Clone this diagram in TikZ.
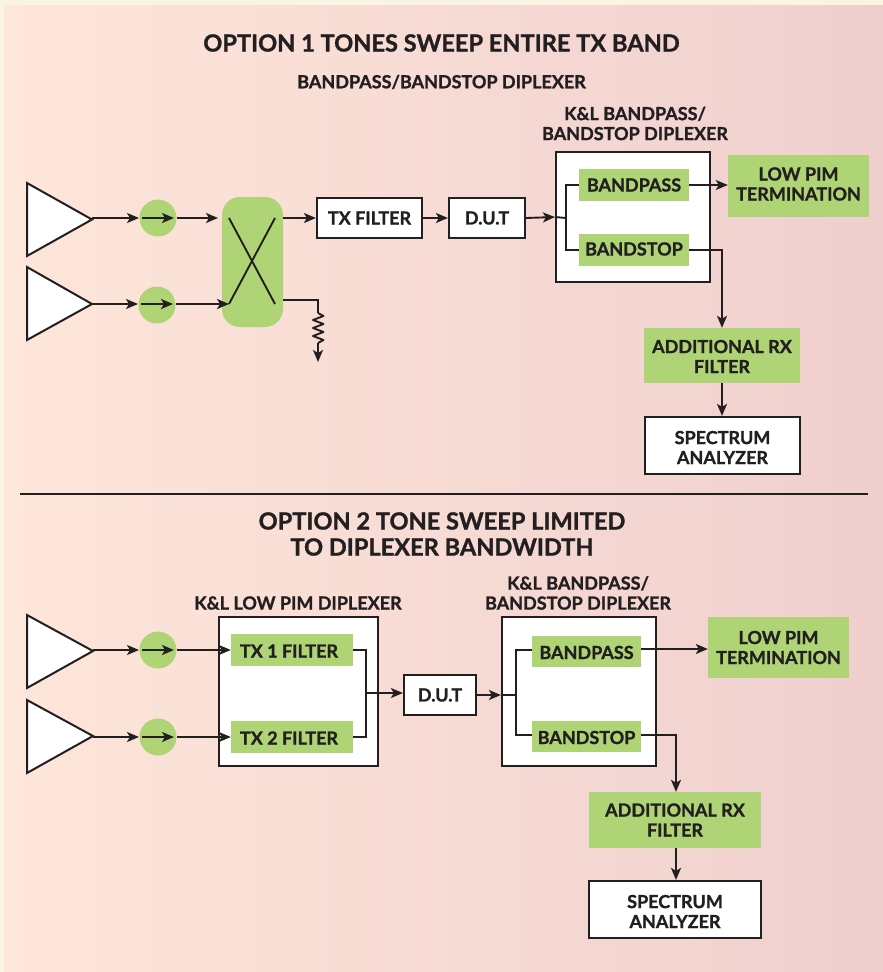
\documentclass[tikz,border=0pt]{standalone}
\usepackage{fontspec}
\setmainfont{Lato}[BoldFeatures={FakeBold=1.2}]
\usetikzlibrary{arrows.meta,decorations.pathmorphing,shapes.geometric}
\definecolor{gr}{HTML}{AED475}
\definecolor{ink}{HTML}{231F20}
\definecolor{creamc}{HTML}{FAF5E3}
\definecolor{bgl}{HTML}{FEE6DA}
\definecolor{bgr}{HTML}{EFCFCE}
\tikzset{
 x=1pt,y=-1pt,
 conn/.style={draw=ink,line width=1.9pt},
 arr/.style={conn,-{Stealth[length=12pt,width=10pt,inset=3pt]}},
 lab/.style={font=\bfseries\fontsize{18}{20}\selectfont,text=ink,align=center,inner sep=0pt},
 wbox/.style={draw=ink,line width=2.2pt,fill=white,inner sep=0pt},
 gbox/.style={fill=gr,inner sep=0pt},
 title/.style={font=\bfseries\fontsize{23.6}{26}\selectfont,text=ink,align=center,inner sep=0pt},
 amp/.style={draw=ink,line width=2pt,fill=white},
 iso/.style={circle,fill=gr,minimum size=37pt,inner sep=0pt},
}
\newcommand{\bx}[6]{\node[#1,minimum width=#4-#3,minimum height=#6-#5] (#2) at ({(#3+#4)/2},{(#5+#6)/2}) {};}
\begin{document}
\begin{tikzpicture}
\useasboundingbox (0,0) rectangle (883,972);
\fill[creamc] (0,0) rectangle (883,972);
\shade[left color=bgl,right color=bgr] (4,5) rectangle (883,972);

% titles
\node[title] (t1) at (441.5,43) {OPTION 1 TONES SWEEP ENTIRE TX BAND};
\node[lab] (t1b) at (441.5,82) {BANDPASS/BANDSTOP DIPLEXER};
\node[lab] (t1c) at (635,123.5) {K\&L BANDPASS/\\BANDSTOP DIPLEXER};
\node[title] (t2) at (442,534) {OPTION 2 TONE SWEEP LIMITED\\TO DIPLEXER BANDWIDTH};
\node[lab] (t2b) at (298,603) {K\&L LOW PIM DIPLEXER};
\node[lab] (t2c) at (578,593) {K\&L BANDPASS/\\BANDSTOP DIPLEXER};
\coordinate (ruleL) at (20,493.5);
\coordinate (ruleR) at (868,493.5);
\draw[ink,line width=2pt] (ruleL) -- (ruleR);

%%% Option 1
\draw[amp] (27,183) -- (27,256) -- (92,219.5) -- cycle;
\draw[amp] (27,267) -- (27,340) -- (92,304) -- cycle;
\coordinate (a1) at (92,218);
\coordinate (a2) at (92,304);
\node[iso] (c1) at (158,218) {};
\node[iso] (c2) at (157,305) {};
\node[fill=gr,rounded corners=18pt,minimum width=61pt,minimum height=130pt,inner sep=0pt] (cp) at (252.5,262) {};
\coordinate (x1) at (229,218); \coordinate (x2) at (275,218);
\coordinate (x3) at (229,304); \coordinate (x4) at (275,304);
\draw[conn] (x1) -- (x4);
\draw[conn] (x2) -- (x3);
\draw[arr] (a1) -- (139,218);
\draw[arr] (142,218) -- (174,218);
\draw[arr] (177,218) -- (218,218);
\draw[arr] (a2) -- (138,304);
\draw[arr] (141,304) -- (173,304);
\draw[arr] (176,304) -- (x3);
\bx{wbox}{txf}{317}{422}{198}{238}
\node[lab] at (txf) {TX FILTER};
\bx{wbox}{dut}{449}{525}{198}{238}
\node[lab] at (dut) {D.U.T};
\bx{wbox}{dip}{556}{710}{152}{282}
\bx{gbox}{bp}{579}{689}{169}{201}
\node[lab] at (bp) {BANDPASS};
\bx{gbox}{bs}{579}{689}{234}{266}
\node[lab,yshift=1pt] at (bs) {BANDSTOP};
\bx{gbox}{low}{728}{869}{155}{217}
\node[lab,yshift=2pt] at (low) {LOW PIM\\TERMINATION};
\bx{gbox}{rx}{644}{800}{328}{383}
\node[lab,yshift=-1pt] at (rx) {ADDITIONAL RX\\FILTER};
\bx{wbox}{sa}{645}{800}{417}{474}
\node[lab,yshift=-2pt] at (sa) {SPECTRUM\\ANALYZER};
\draw[arr] (283,218) -- (txf.west);
\draw[arr] (txf.east) -- (dut.west);
\draw[arr] (dut.east) -- (dip.west);
\coordinate (j1) at (566,218);
\draw[conn] (dip.west) -- (j1);
\draw[conn] (bp.west) -| (j1);
\draw[conn] (bs.west) -| (j1);
\draw[arr] (bp.east) -- (bp.east -| low.west);
\coordinate (c1a) at (722,250);
\draw[arr] (bs.east) -- (c1a) -- (c1a |- rx.north);
\draw[arr] (rx.south -| c1a) -- (sa.north -| c1a);
% resistor
\coordinate (r0) at (283,300);
\coordinate (r1) at (318,300);
\coordinate (r2) at (318,313);
\coordinate (r3) at (318,343);
\coordinate (r4) at (318,362);
\draw[conn] (r0) -- (r1) -- (r2);
\draw[conn,line join=round] (r2) -- (323.5,316) -- (313,320) -- (323.5,324) -- (313,328) -- (323.5,332) -- (313,336) -- (323.5,340) -- (r3);
\draw[arr] (r3) -- (r4);

%%% Option 2
\draw[amp] (27,615) -- (27,688) -- (93,651) -- cycle;
\draw[amp] (27,700) -- (27,773) -- (93,736) -- cycle;
\coordinate (b1) at (93,650);
\coordinate (b2) at (93,737);
\node[iso] (d1) at (158,650) {};
\node[iso] (d2) at (158,737) {};
\bx{wbox}{dip1}{219}{378}{617}{766}
\bx{gbox}{tx1}{231}{353}{634}{666}
\node[lab,xshift=-3pt,yshift=-1pt] at (tx1) {TX 1 FILTER};
\bx{gbox}{tx2}{231}{353}{721}{753}
\node[lab,xshift=-3pt,yshift=-1pt] at (tx2) {TX 2 FILTER};
\bx{wbox}{dutb}{404}{476}{675}{715}
\node[lab] at (dutb) {D.U.T};
\bx{wbox}{dip2}{502}{656}{617}{766}
\bx{gbox}{bp2}{532}{641}{636}{667}
\node[lab,yshift=-1pt] at (bp2) {BANDPASS};
\bx{gbox}{bs2}{532}{641}{721}{752}
\node[lab,yshift=-1pt] at (bs2) {BANDSTOP};
\bx{gbox}{low2}{708}{849}{617}{678}
\node[lab] at (low2) {LOW PIM\\TERMINATION};
\bx{gbox}{rx2}{589}{761}{792}{848}
\node[lab] at (rx2) {ADDITIONAL RX\\FILTER};
\bx{wbox}{sa2}{589}{761}{881}{938}
\node[lab,yshift=-2pt] at (sa2) {SPECTRUM\\ANALYZER};
\draw[arr] (b1) -- (139,650);
\draw[arr] (142,650) -- (174,650);
\draw[arr] (177,650) -- (tx1.west);
\draw[arr] (b2) -- (139,737);
\draw[arr] (142,737) -- (174,737);
\draw[arr] (177,737) -- (tx2.west);
\coordinate (j2) at (366,693);
\draw[conn] (tx1.east) -| (j2);
\draw[conn] (tx2.east) -| (j2);
\draw[arr] (j2) -- (j2 -| dutb.west);
\coordinate (j3) at (516,695);
\draw[arr] (dutb.east) -- (dip2.west |- dutb.east);
\draw[conn] (dip2.west |- j3) -- (j3);
\coordinate (p2l) at (532,650);
\coordinate (p2r) at (641,649);
\coordinate (s2l) at (532,735);
\coordinate (s2r) at (641,735);
\draw[conn] (p2l) -| (j3);
\draw[conn] (s2l) -| (j3);
\draw[arr] (p2r) -- (p2r -| low2.west);
\coordinate (c2a) at (676,735);
\draw[arr] (s2r) -- (c2a) -- (c2a |- rx2.north);
\draw[arr] (rx2.south -| c2a) -- (sa2.north -| c2a);
\end{tikzpicture}
\end{document}
